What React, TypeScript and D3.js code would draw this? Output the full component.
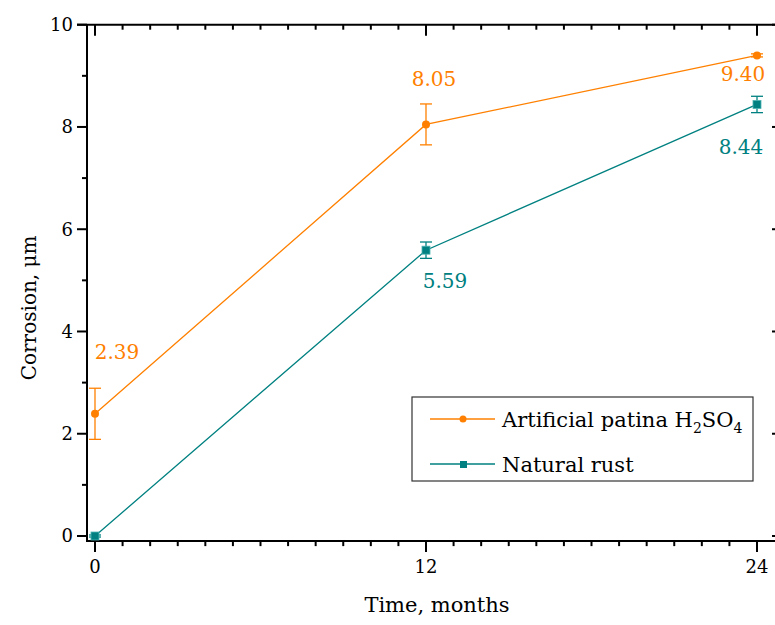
import React from "react";
import * as d3 from "d3";

// Exposure time in months
const months = [0, 12, 24];

// Corrosion depth, µm
const patinaValues = [2.39, 8.05, 9.4];
const rustValues = [0, 5.59, 8.44];

// Standard deviations
const patinaErrors = [0.5, 0.4, 0.03];
const rustErrors = [0.02, 0.16, 0.16];

const xTicksMajor = [0, 12, 24];
const yTicksMajor = [0, 2, 4, 6, 8, 10];

const seriesNames = ["Artificial patina H2SO4", "Natural rust"];

const W = 775;
const H = 625;
const ORANGE = "#ff8000";
const TEAL = "#008080";
const FONT = "'DejaVu Serif', 'Liberation Serif', serif";

export default function App() {
  const x = d3.scaleLinear().domain([0, 24]).range([95, 757]);
  const y = d3.scaleLinear().domain([0, 10]).range([536, 24.7]);

  const frameLeft = x(-0.29);
  const frameRight = 782;
  const frameTop = y(10);
  const frameBottom = y(-0.1);

  const line = d3
    .line<[number, number]>()
    .x((d) => x(d[0]))
    .y((d) => y(d[1]));

  const patinaPts: [number, number][] = months.map((m, i) => [m, patinaValues[i]]);
  const rustPts: [number, number][] = months.map((m, i) => [m, rustValues[i]]);

  const xMinor = d3.range(0, 25, 1);
  const yMinor = d3.range(0, 10.01, 1);

  // label offsets (px) relative to each point
  const patinaLabelOffsets = [
    [22, -55],
    [8, -38],
    [-14, 26],
  ];
  const rustLabelOffsets = [
    [0, 0],
    [19, 38],
    [-16, 50],
  ];

  const errBar = (cx: number, v: number, e: number, color: string, key: string) => {
    const y1 = y(v + e);
    const y2 = y(v - e);
    return (
      <g key={key} stroke={color} strokeWidth={1.3}>
        <line x1={cx} x2={cx} y1={y1} y2={y2} />
        <line x1={cx - 6} x2={cx + 6} y1={y1} y2={y1} />
        <line x1={cx - 6} x2={cx + 6} y1={y2} y2={y2} />
      </g>
    );
  };

  return (
    <svg
      width={W}
      height={H}
      style={{ position: "absolute", left: 0, top: 0, background: "#fff" }}
      fontFamily={FONT}
    >
      {/* frame */}
      <g stroke="#000" strokeWidth={2} fill="none">
        <line x1={frameLeft} x2={frameLeft} y1={frameTop} y2={frameBottom} />
        <line x1={frameLeft - 1} x2={frameRight} y1={frameBottom} y2={frameBottom} />
        <line x1={frameLeft - 10} x2={frameRight} y1={frameTop} y2={frameTop} />
        <line x1={frameRight} x2={frameRight} y1={frameTop} y2={frameBottom} />
      </g>

      {/* x ticks: bottom outward, top inward; y ticks: left outward, right inward */}
      <g stroke="#000" strokeWidth={2}>
        {xMinor.map((m) => {
          const major = xTicksMajor.includes(m);
          const len = major ? 11 : 5;
          return (
            <g key={"xt" + m}>
              <line x1={x(m)} x2={x(m)} y1={frameBottom} y2={frameBottom + len} />
              <line x1={x(m)} x2={x(m)} y1={frameTop} y2={frameTop + len} />
            </g>
          );
        })}
        {yMinor.map((v) => {
          const major = yTicksMajor.includes(v);
          const len = major ? 10 : 5;
          return (
            <g key={"yt" + v}>
              <line x1={frameLeft - len} x2={frameLeft} y1={y(v)} y2={y(v)} />
              <line x1={frameRight - len} x2={frameRight} y1={y(v)} y2={y(v)} />
            </g>
          );
        })}
      </g>

      {/* tick labels */}
      <g fontSize={18} fill="#000">
        {xTicksMajor.map((m) => (
          <text key={"xl" + m} x={x(m)} y={frameBottom + 32} textAnchor="middle">
            {m}
          </text>
        ))}
        {yTicksMajor.map((v) => (
          <text key={"yl" + v} x={frameLeft - 14} y={y(v)} dy="0.36em" textAnchor="end">
            {v}
          </text>
        ))}
      </g>

      {/* axis titles */}
      <text x={437} y={612} textAnchor="middle" fontSize={21}>
        Time, months
      </text>
      <text
        transform={`translate(36, ${(frameTop + frameBottom) / 2 + 25}) rotate(-90)`}
        textAnchor="middle"
        fontSize={20}
      >
        Corrosion, μm
      </text>

      {/* series lines */}
      <path d={line(patinaPts) || ""} fill="none" stroke={ORANGE} strokeWidth={1.3} />
      <path d={line(rustPts) || ""} fill="none" stroke={TEAL} strokeWidth={1.3} />

      {/* error bars */}
      {months.map((m, i) => errBar(x(m), patinaValues[i], patinaErrors[i], ORANGE, "pe" + i))}
      {months.map((m, i) => errBar(x(m), rustValues[i], rustErrors[i], TEAL, "re" + i))}

      {/* markers */}
      {patinaPts.map((p, i) => (
        <circle key={"pm" + i} cx={x(p[0])} cy={y(p[1])} r={4} fill={ORANGE} />
      ))}
      {rustPts.map((p, i) => (
        <rect
          key={"rm" + i}
          x={x(p[0]) - 4}
          y={y(p[1]) - 4}
          width={8}
          height={8}
          fill={TEAL}
          stroke="#4fb3b3"
          strokeWidth={0.8}
        />
      ))}

      {/* value labels */}
      <g fontSize={20}>
        {patinaPts.map((p, i) => (
          <text
            key={"pl" + i}
            x={x(p[0]) + patinaLabelOffsets[i][0]}
            y={y(p[1]) + patinaLabelOffsets[i][1]}
            textAnchor="middle"
            fill={ORANGE}
          >
            {patinaValues[i].toFixed(2)}
          </text>
        ))}
        {rustPts.map((p, i) =>
          i === 0 ? null : (
            <text
              key={"rl" + i}
              x={x(p[0]) + rustLabelOffsets[i][0]}
              y={y(p[1]) + rustLabelOffsets[i][1]}
              textAnchor="middle"
              fill={TEAL}
            >
              {rustValues[i].toFixed(2)}
            </text>
          )
        )}
      </g>

      {/* legend */}
      <g>
        <rect x={412} y={397} width={341} height={84} fill="#fff" stroke="#333" strokeWidth={1.2} />
        <line x1={430} x2={495} y1={419} y2={419} stroke={ORANGE} strokeWidth={1.3} />
        <circle cx={463} cy={419} r={3.5} fill={ORANGE} />
        <line x1={430} x2={495} y1={464} y2={464} stroke={TEAL} strokeWidth={1.3} />
        <rect x={460} y={461} width={7} height={7} fill={TEAL} />
        <text x={502} y={427} fontSize={21} aria-label={seriesNames[0]}>
          Artificial patina H
          <tspan fontSize={14} dy={6}>2</tspan>
          <tspan dy={-6}>SO</tspan>
          <tspan fontSize={14} dy={6}>4</tspan>
        </text>
        <text x={502} y={472} fontSize={21}>
          {seriesNames[1]}
        </text>
      </g>
    </svg>
  );
}
